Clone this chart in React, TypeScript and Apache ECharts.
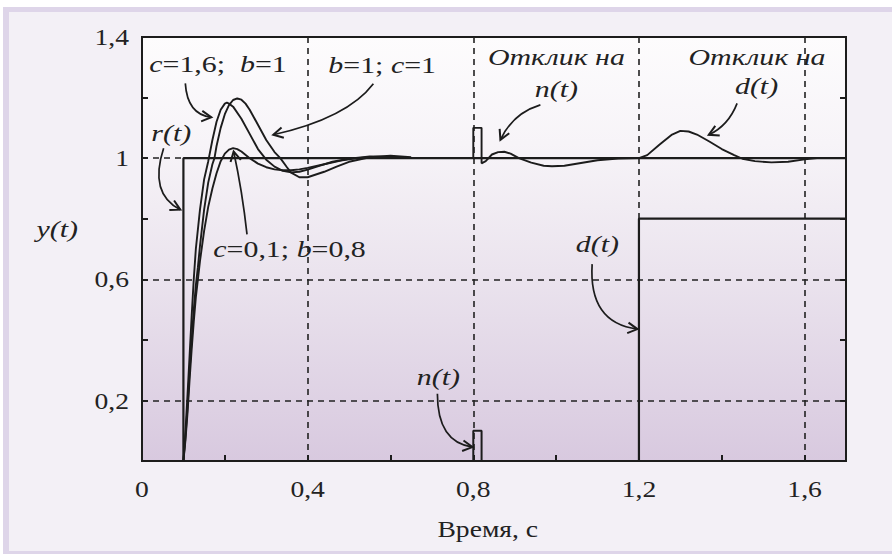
import React, { useEffect, useRef } from "react";
import * as echarts from "echarts";

// ---------- data ----------
const xLabelValues = [0, 0.4, 0.8, 1.2, 1.6];
const xLabelTexts = ["0", "0,4", "0,8", "1,2", "1,6"];
const yLabelValues = [0.2, 0.6, 1.0, 1.4];
const yLabelTexts = ["0,2", "0,6", "1", "1,4"];
const gridXValues = [0.4, 0.8, 1.2, 1.6];
const gridYValues = [0.2, 0.6, 1.0];
const xAxisTitle = "Время, с";
const yAxisTitle = "y(t)";

// reference r(t)
const rTimes = [0, 0.1, 0.1, 1.7];
const rValues = [0, 0, 1, 1];
// disturbance d(t)
const dTimes = [1.2, 1.2, 1.7];
const dValues = [0, 0.8, 0.8];
// noise n(t)
const nTimes = [0.8, 0.8, 0.82, 0.82];
const nValues = [0, 0.1, 0.1, 0];

// response c=1,6; b=1
const aTimes = [0.1, 0.105, 0.11, 0.115, 0.12, 0.125, 0.13, 0.14, 0.15, 0.16, 0.17, 0.18, 0.19, 0.2, 0.205, 0.21, 0.22, 0.24, 0.26, 0.28, 0.3, 0.32, 0.34, 0.36, 0.38, 0.4, 0.43, 0.46, 0.5, 0.55, 0.6, 0.65];
const aValues = [0, 0.1, 0.22, 0.35, 0.48, 0.6, 0.7, 0.83, 0.93, 0.99, 1.06, 1.12, 1.16, 1.18, 1.183, 1.18, 1.17, 1.13, 1.08, 1.03, 0.995, 0.972, 0.958, 0.953, 0.955, 0.962, 0.975, 0.988, 0.998, 1.006, 1.005, 1.0];
// response b=1; c=1
const bTimes = [0.1, 0.105, 0.11, 0.115, 0.12, 0.125, 0.13, 0.135, 0.14, 0.15, 0.16, 0.17, 0.175, 0.18, 0.19, 0.2, 0.21, 0.22, 0.23, 0.24, 0.25, 0.26, 0.28, 0.3, 0.32, 0.334, 0.35, 0.36, 0.38, 0.4, 0.44, 0.47, 0.5, 0.55, 0.6, 0.65];
const bValues = [0, 0.08, 0.18, 0.3, 0.4, 0.5, 0.58, 0.64, 0.71, 0.83, 0.92, 0.98, 1.0, 1.04, 1.1, 1.145, 1.175, 1.192, 1.197, 1.193, 1.18, 1.16, 1.11, 1.06, 1.02, 1.0, 0.97, 0.952, 0.937, 0.937, 0.955, 0.972, 0.988, 1.003, 1.008, 1.003];
// response c=0,1; b=0,8
const cTimes = [0.1, 0.105, 0.11, 0.115, 0.12, 0.125, 0.13, 0.135, 0.14, 0.15, 0.16, 0.17, 0.18, 0.19, 0.2, 0.21, 0.22, 0.23, 0.24, 0.26, 0.28, 0.3, 0.32, 0.34, 0.36, 0.38, 0.4, 0.44, 0.48, 0.52, 0.56, 0.6, 0.65];
const cValues = [0, 0.07, 0.16, 0.27, 0.37, 0.46, 0.54, 0.6, 0.66, 0.76, 0.84, 0.9, 0.95, 0.99, 1.015, 1.028, 1.033, 1.03, 1.022, 1.0, 0.982, 0.97, 0.963, 0.96, 0.96, 0.963, 0.968, 0.98, 0.992, 1.0, 1.004, 1.004, 1.0];
// settled output with responses to n(t) and d(t)
const tailTimes = [0.65, 0.7, 0.8, 0.8, 0.82, 0.82, 0.83, 0.845, 0.86, 0.875, 0.89, 0.91, 0.94, 0.97, 0.99, 1.02, 1.06, 1.1, 1.15, 1.2, 1.22, 1.25, 1.28, 1.3, 1.32, 1.34, 1.37, 1.4, 1.43, 1.45, 1.48, 1.52, 1.56, 1.6, 1.63, 1.7];
const tailValues = [1.0, 1.0, 1.0, 1.1, 1.1, 0.983, 0.99, 1.012, 1.02, 1.021, 1.015, 1.0, 0.985, 0.975, 0.973, 0.975, 0.984, 0.993, 0.999, 1.0, 1.01, 1.045, 1.078, 1.09, 1.088, 1.078, 1.055, 1.03, 1.01, 0.998, 0.99, 0.986, 0.988, 0.996, 1.0, 1.0];

// annotation texts: [t, y] anchors in data space
const noteTexts = ["{i|c}{n|=1,6;  }{i|b}{n|=1}", "{i|b}{n|=1; }{i|c}{n|=1}", "{i|r(t)}", "{i|c}{n|=0,1; }{i|b}{n|=0,8}", "{i|Отклик на}", "{i|n(t)}", "{i|Отклик на}", "{i|d(t)}", "{i|d(t)}", "{i|n(t)}"];
const noteT = [0.0176, 0.45, 0.0225, 0.1723, 1.0007, 1.0007, 1.485, 1.484, 1.0998, 0.7157];
const noteY = [1.3115, 1.308, 1.081, 0.6997, 1.3346, 1.229, 1.3346, 1.236, 0.716, 0.2753];
const noteAlign = ["left", "left", "left", "left", "center", "center", "center", "center", "center", "center"];

// annotation arrows: start, control, end in data space
const arrowStart = [[0.1046, 1.247], [0.5587, 1.2457], [0.0522, 1.033], [0.2536, 0.748], [0.962, 1.1757], [1.437, 1.181], [1.087, 0.65], [0.7133, 0.2217]];
const arrowCtrl = [[0.1094, 1.144], [0.4956, 1.132], [0.0162, 0.883], [0.2423, 0.89], [0.8945, 1.147], [1.4162, 1.1076], [1.078, 0.456], [0.7133, 0.0615]];
const arrowEnd = [[0.1674, 1.135], [0.317, 1.0773], [0.0925, 0.83], [0.2213, 1.022], [0.8655, 1.0605], [1.3686, 1.077], [1.1964, 0.4355], [0.7978, 0.046]];

const FONT = "Liberation Serif";
const INK = "#1c1c1c";
const TXT = "#222222";
const STRETCH = 1.3;
const LABEL_STRETCH = 1.2;

const zip = (ts: number[], vs: number[]) => ts.map((t, i) => [t, vs[i]]);

function buildOption(graphics: any[]) {
  const lineSeries = (name: string, data: number[][], width: number) => ({
    name,
    type: "line",
    data,
    showSymbol: false,
    symbol: "none",
    lineStyle: { color: INK, width },
    z: 5,
    silent: true,
  });
  const tick = { show: true, inside: true, length: 6, lineStyle: { color: INK, width: 2 } };
  return {
    animation: false,
    backgroundColor: "#ffffff",
    grid: {
      left: 142,
      top: 37,
      width: 704,
      height: 424,
      show: true,
      borderColor: INK,
      borderWidth: 2,
      backgroundColor: new echarts.graphic.LinearGradient(0, 0, 0, 1, [
        { offset: 0, color: "#fdfcfd" },
        { offset: 0.25, color: "#f7f4f8" },
        { offset: 0.55, color: "#ebe4ee" },
        { offset: 1, color: "#d8c9df" },
      ]),
    },
    xAxis: [
      {
        type: "value",
        min: 0,
        max: 1.7,
        interval: 0.2,
        axisLine: { show: false },
        splitLine: { show: false },
        axisTick: tick,
        axisLabel: { show: false },
      },
    ],
    yAxis: [
      {
        type: "value",
        min: 0,
        max: 1.4,
        interval: 0.2,
        axisLine: { show: false },
        splitLine: { show: false },
        axisTick: tick,
        axisLabel: { show: false },
      },
      {
        type: "value",
        position: "right",
        min: 0,
        max: 1.4,
        interval: 0.2,
        axisLine: { show: false },
        splitLine: { show: false },
        axisTick: tick,
        axisLabel: { show: false },
      },
    ],
    series: [
      {
        ...lineSeries("grid", [], 1),
        markLine: {
          silent: true,
          symbol: "none",
          label: { show: false },
          lineStyle: { color: "#222", width: 1.6, type: [6, 5] },
          data: [
            ...gridYValues.map((v) => ({ yAxis: v })),
            ...gridXValues.map((v) => ({ xAxis: v })),
          ],
        },
        z: 2,
      },
      lineSeries("r(t)", zip(rTimes, rValues), 2.2),
      lineSeries("d(t)", zip(dTimes, dValues), 2.2),
      lineSeries("n(t)", zip(nTimes, nValues), 2),
      lineSeries("c=1,6; b=1", zip(aTimes, aValues), 1.9),
      lineSeries("b=1; c=1", zip(bTimes, bValues), 1.9),
      lineSeries("c=0,1; b=0,8", zip(cTimes, cValues), 1.9),
      lineSeries("y(t)", zip(tailTimes, tailValues), 1.9),
    ],
    graphic: graphics,
  };
}

export default function App() {
  const ref = useRef<HTMLDivElement>(null);
  useEffect(() => {
    if (!ref.current) return;
    const chart = echarts.init(ref.current, null, { renderer: "svg" });
    chart.setOption(buildOption([]));

    const toPx = (p: number[]) => chart.convertToPixel({ gridIndex: 0 }, p) as number[];
    const rich = {
      i: { fontFamily: FONT, fontStyle: "italic", fontSize: 23, fill: TXT, color: TXT },
      n: { fontFamily: FONT, fontStyle: "normal", fontSize: 23, fill: TXT, color: TXT },
    };
    const textEl = (text: string, x: number, y: number, align: string, sx: number, italic: boolean) => ({
      type: "text",
      x,
      y,
      scaleX: sx,
      silent: true,
      style: {
        text,
        rich,
        align,
        verticalAlign: "middle",
        fontFamily: FONT,
        fontSize: 23,
        fontStyle: italic ? "italic" : "normal",
        fill: TXT,
      },
      z: 10,
    });
    const graphics: any[] = [
      // page frame (decoration)
      { type: "rect", z: -100, silent: true, shape: { x: 3, y: 7, width: 889, height: 547 }, style: { fill: "#ded5e9" } },
      { type: "rect", z: -99, silent: true, shape: { x: 9, y: 12, width: 883, height: 539 }, style: { fill: "#f3f0f6" } },
    ];
    // tick labels, placed through the axes' scales
    xLabelValues.forEach((v, k) => {
      const [x, y] = toPx([v, 0]);
      graphics.push(textEl(`{n|${xLabelTexts[k]}}`, x, y + 28, "center", LABEL_STRETCH, false));
    });
    yLabelValues.forEach((v, k) => {
      const [x, y] = toPx([0, v]);
      graphics.push(textEl(`{n|${yLabelTexts[k]}}`, x - 13, y, "right", LABEL_STRETCH, false));
    });
    {
      const [x, y] = toPx([0.835, 0]);
      graphics.push(textEl(`{n|${xAxisTitle}}`, x, y + 68, "center", LABEL_STRETCH, false));
    }
    {
      const [x, y] = toPx([-0.2046, 0.765]);
      graphics.push(textEl(`{i|${yAxisTitle}}`, x, y, "center", STRETCH, true));
    }
    noteTexts.forEach((txt, k) => {
      const [x, y] = toPx([noteT[k], noteY[k]]);
      graphics.push(textEl(txt, x, y, noteAlign[k], STRETCH, true));
    });
    arrowStart.forEach((s, k) => {
      const [x1, y1] = toPx(s);
      const [cx, cy] = toPx(arrowCtrl[k]);
      const [x2, y2] = toPx(arrowEnd[k]);
      graphics.push({
        type: "bezierCurve",
        silent: true,
        shape: { x1, y1, x2, y2, cpx1: cx, cpy1: cy },
        style: { stroke: INK, lineWidth: 1.7, fill: null },
        z: 10,
      });
      const a = Math.atan2(y2 - cy, x2 - cx);
      const L = 11;
      const th = 0.5;
      graphics.push({
        type: "polyline",
        silent: true,
        shape: {
          points: [
            [x2 - L * Math.cos(a - th), y2 - L * Math.sin(a - th)],
            [x2, y2],
            [x2 - L * Math.cos(a + th), y2 - L * Math.sin(a + th)],
          ],
        },
        style: { stroke: INK, lineWidth: 2, fill: null },
        z: 10,
      });
    });
    chart.setOption(buildOption(graphics), { notMerge: true });

    return () => chart.dispose();
  }, []);

  return (
    <div
      ref={ref}
      style={{ position: "absolute", left: 0, top: 0, width: 892, height: 554, fontFamily: "Liberation Serif" }}
    />
  );
}
